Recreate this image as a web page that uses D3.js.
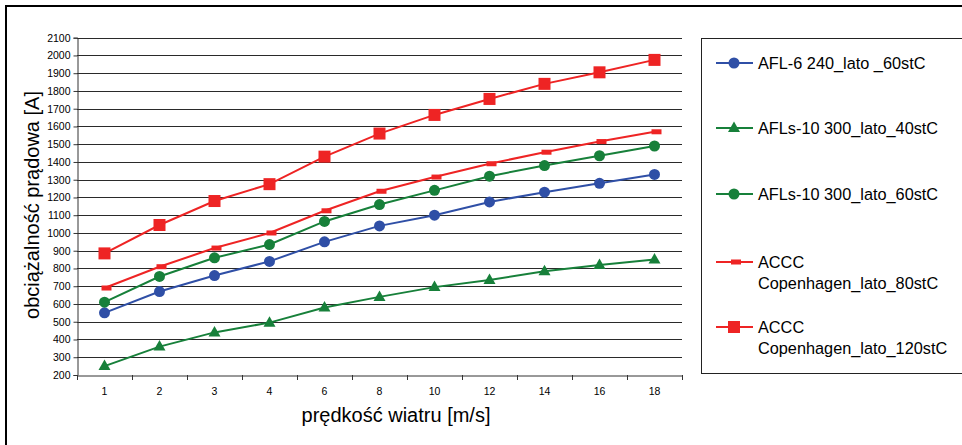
<!DOCTYPE html>
<html><head><meta charset="utf-8">
<script src="https://cdn.jsdelivr.net/npm/d3@7"></script>
<style>body{margin:0;background:#fff;}svg{display:block;font-family:"Liberation Sans",Arial,sans-serif;}</style>
</head><body><svg id="c" width="962" height="445"></svg>
<script>
const categories = ["1","2","3","4","6","8","10","12","14","16","18"];
const yTicks = d3.range(200, 2101, 100);
const seriesNames = ["AFL-6 240_lato _60stC","AFLs-10 300_lato_40stC","AFLs-10 300_lato_60stC","ACCC Copenhagen_lato_80stC","ACCC Copenhagen_lato_120stC"];
const afl6_60 = [550,670,760,840,950,1040,1100,1175,1230,1280,1330];
const afls10_40 = [250,360,440,495,580,640,695,735,785,820,850];
const afls10_60 = [610,755,860,935,1065,1160,1240,1320,1380,1435,1490];
const accc_80 = [690,810,915,1000,1125,1235,1315,1390,1455,1515,1570];
const accc_120 = [885,1045,1180,1275,1430,1560,1665,1755,1840,1905,1975];

const series = [
  {name: seriesNames[0], values: afl6_60, color: "#2f4fa6", marker: "circle"},
  {name: seriesNames[1], values: afls10_40, color: "#17803a", marker: "triangle"},
  {name: seriesNames[2], values: afls10_60, color: "#17803a", marker: "circle"},
  {name: seriesNames[3], values: accc_80, color: "#ee2424", marker: "dash"},
  {name: seriesNames[4], values: accc_120, color: "#ee2424", marker: "square"}
];

const svg = d3.select("#c");
// outer frame
svg.append("rect").attr("x",6).attr("y",6).attr("width",1000).attr("height",500)
  .attr("fill","none").attr("stroke","#000").attr("stroke-width",2);

const L = 77, R = 682, T = 37.7, B = 375;
const x = d3.scaleBand().domain(categories).range([L, R]);
const y = d3.scaleLinear().domain([200, 2100]).range([B, T]);

// gridlines
svg.append("g").selectAll("line").data(yTicks.slice(1)).join("line")
  .attr("x1", L).attr("x2", R).attr("y1", d=>Math.round(y(d))+0.5).attr("y2", d=>Math.round(y(d))+0.5)
  .attr("stroke","#2a2a2a").attr("stroke-width",1);

// y axis
const ya = svg.append("g").attr("transform",`translate(${L+0.5},0)`)
  .call(d3.axisLeft(y).tickValues(yTicks).tickSize(4).tickPadding(3).tickFormat(d3.format("d")));
ya.select(".domain").attr("stroke","#333");
ya.selectAll(".tick line").attr("stroke","#333");
ya.selectAll("text").attr("font-size","10.5px").attr("fill","#000").attr("font-family","Liberation Sans, Arial, sans-serif");

// x axis
const xa = svg.append("g").attr("transform",`translate(0,${B+0.5})`)
  .call(d3.axisBottom(x).tickSize(0).tickPadding(12));
xa.select(".domain").attr("stroke","#333");
xa.selectAll("text").attr("font-size","10.5px").attr("fill","#000").attr("font-family","Liberation Sans, Arial, sans-serif");
// category boundary ticks
const bounds = categories.map(c => x(c)).concat([R]);
svg.append("g").selectAll("line").data(bounds).join("line")
  .attr("x1", d=>Math.round(d)+0.5).attr("x2", d=>Math.round(d)+0.5)
  .attr("y1", B).attr("y2", B+5).attr("stroke","#333");

// axis titles
svg.append("text").attr("x",396).attr("y",422).attr("text-anchor","middle")
  .attr("font-size","20px").text("prędkość wiatru [m/s]");
svg.append("text").attr("transform","translate(39,205) rotate(-90)").attr("text-anchor","middle")
  .attr("font-size","20px").text("obciążalność prądowa [A]");

const cx = c => x(c) + x.bandwidth()/2;
const line = d3.line().x((d,i)=>cx(categories[i])).y(d=>y(d));

function drawMarker(g, type, color, px, py) {
  if (type === "circle") g.append("circle").attr("cx",px).attr("cy",py).attr("r",5.5).attr("fill",color);
  else if (type === "square") g.append("rect").attr("x",px-6).attr("y",py-6).attr("width",12).attr("height",12).attr("fill",color);
  else if (type === "dash") g.append("rect").attr("x",px-3).attr("y",py-2.5).attr("width",10).attr("height",5).attr("fill",color);
  else if (type === "triangle") g.append("path").attr("d",`M${px},${py-6.5}L${px+6},${py+4}L${px-6},${py+4}Z`).attr("fill",color);
}

series.forEach(s => {
  const g = svg.append("g");
  g.append("path").datum(s.values).attr("d", line).attr("fill","none").attr("stroke", s.color).attr("stroke-width",2);
  s.values.forEach((v,i) => drawMarker(g, s.marker, s.color, cx(categories[i]), y(v)));
});

// legend
svg.append("rect").attr("x",701.5).attr("y",38.5).attr("width",400).attr("height",335)
  .attr("fill","#fff").attr("stroke","#222").attr("stroke-width",1);
const legY = [63, 128, 194, 262, 327];
series.forEach((s, i) => {
  const g = svg.append("g");
  const ly = legY[i];
  g.append("line").attr("x1",716).attr("x2",753).attr("y1",ly).attr("y2",ly).attr("stroke",s.color).attr("stroke-width",2);
  drawMarker(g, s.marker, s.color, 734, ly);
  const words = s.name.startsWith("ACCC ") ? ["ACCC", s.name.slice(5)] : [s.name];
  words.forEach((w, j) => {
    g.append("text").attr("x",758).attr("y",ly + 6 + j*20.5).attr("font-size","16.3px").attr("fill","#000").text(w);
  });
});
</script></body></html>
